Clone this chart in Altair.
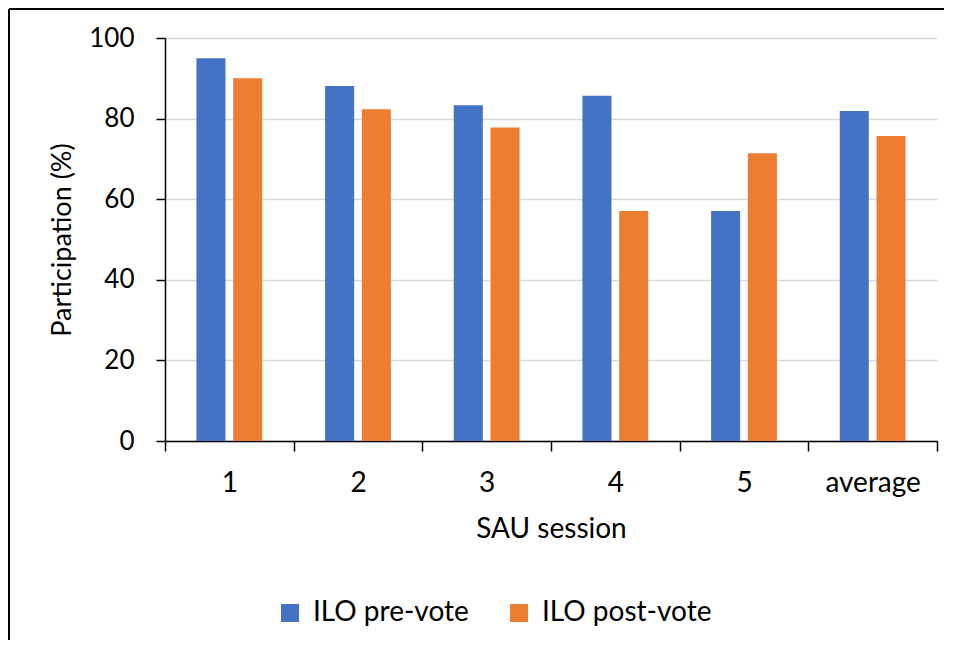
import altair as alt
import pandas as pd

sessions = ["1", "2", "3", "4", "5", "average"]
pre_vote = [95.0, 88.1, 83.3, 85.7, 57.1, 81.9]
post_vote = [90.0, 82.3, 77.8, 57.1, 71.4, 75.7]
series = ["ILO pre-vote", "ILO post-vote"]
colors = ["#4472C4", "#ED7D31"]
y_ticks = [0, 20, 40, 60, 80, 100]

rows = []
for s, a, b in zip(sessions, pre_vote, post_vote):
    rows.append({"session": s, "series": series[0], "value": a})
    rows.append({"session": s, "series": series[1], "value": b})
df = pd.DataFrame(rows)

FONT = "Lato"
W, H = 772, 403

bars = alt.Chart(df).mark_bar().encode(
    x=alt.X("session:N", sort=sessions,
            scale=alt.Scale(paddingInner=0, paddingOuter=0),
            axis=alt.Axis(title="SAU session", tickBand="extent", ticks=True,
                          tickSize=10, tickColor="#000000", tickWidth=1.5,
                          domainColor="#000000", domainWidth=1.5,
                          labelAngle=0, labelFontSize=28, labelPadding=18,
                          labelColor="#000000", titleFontSize=28,
                          titleFontWeight="normal", titleColor="#000000",
                          titlePadding=18, grid=False)),
    xOffset=alt.XOffset("series:N", sort=series,
                        scale=alt.Scale(paddingInner=0.21, paddingOuter=0.855)),
    y=alt.Y("value:Q",
            scale=alt.Scale(domain=[0, 100], nice=False),
            axis=alt.Axis(title="Participation (%)", values=y_ticks,
                          tickSize=9, tickColor="#000000", tickWidth=1.5,
                          domainColor="#000000", domainWidth=1.5,
                          gridColor="#D9D9D9", gridWidth=1.5,
                          labelFontSize=26, labelPadding=22,
                          labelColor="#000000", titleFontSize=27,
                          titleFontWeight="normal", titleColor="#000000",
                          titlePadding=12)),
    color=alt.Color("series:N", sort=series,
                    scale=alt.Scale(domain=series, range=colors),
                    legend=alt.Legend(title=None, orient="none",
                                      direction="horizontal",
                                      legendX=111, legendY=561,
                                      symbolType="square", symbolSize=324,
                                      symbolStrokeWidth=0, labelFontSize=28,
                                      labelColor="#000000", labelOffset=9,
                                      labelLimit=400, columnPadding=36)),
)

frame_df = pd.DataFrame({"f": [0]})
top_line = alt.Chart(frame_df).mark_rule(color="#000000", strokeWidth=2).encode(
    x=alt.value(-156), x2=alt.value(779), y=alt.value(-29))
left_line = alt.Chart(frame_df).mark_rule(color="#000000", strokeWidth=2).encode(
    x=alt.value(-156), y=alt.value(-29), y2=alt.value(602))

chart = alt.layer(bars, top_line, left_line).properties(
    width=W, height=H, padding=0
).configure(font=FONT).configure_view(stroke=None)

chart.save("out.html", embed_options={"renderer": "svg", "actions": False})
